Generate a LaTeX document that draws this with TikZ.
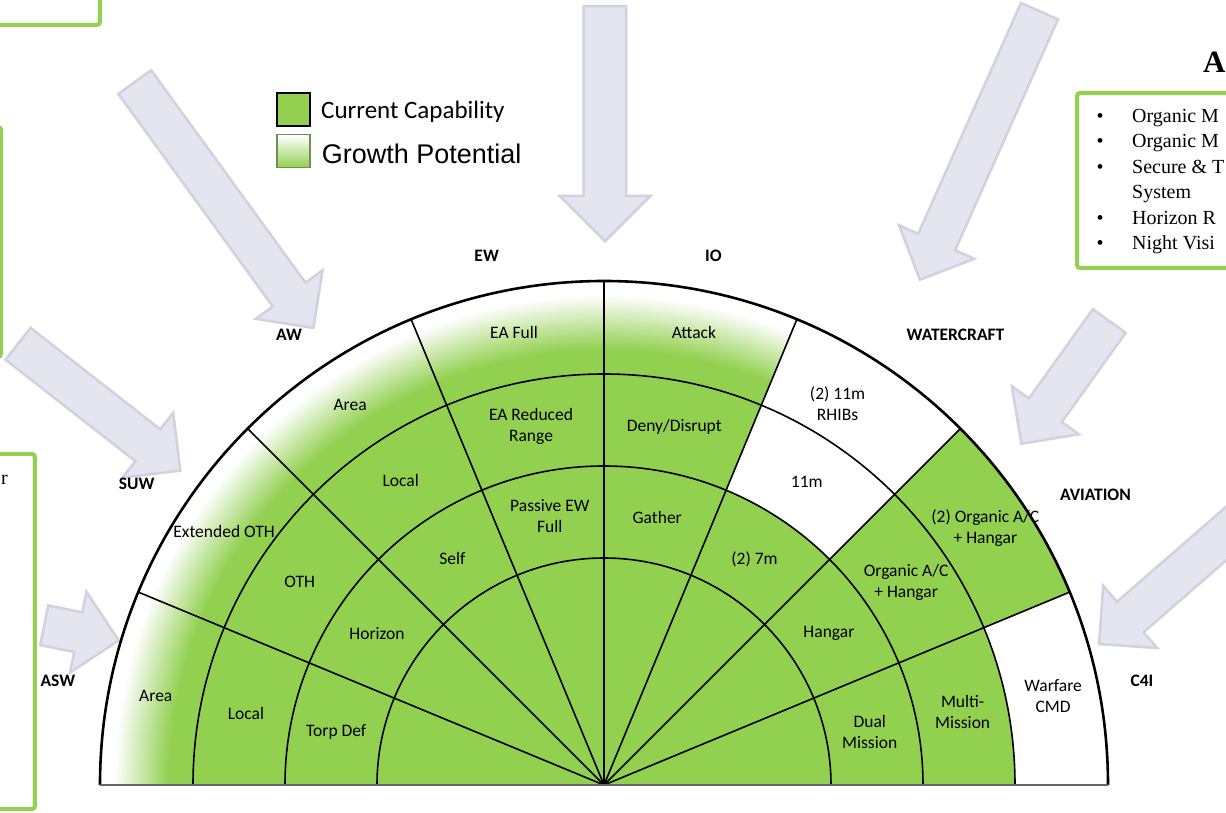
\documentclass[tikz,border=0pt]{standalone}
\usepackage{fontspec}
\setmainfont{Liberation Serif}
\newfontfamily\calibrifont{Carlito}
\newfontfamily\arialfont{Liberation Sans}
\usetikzlibrary{positioning, shapes.arrows}
\definecolor{capgreen}{HTML}{92D050}
\definecolor{arrowfill}{RGB}{228,229,238}
\definecolor{arrowline}{RGB}{208,210,226}
\definecolor{growline}{RGB}{115,140,90}
\pgfdeclareradialshading{growthfade}{\pgfpoint{0bp}{0bp}}{color(0bp)=(capgreen); color(21.6bp)=(capgreen); color(24.3bp)=(white); color(25bp)=(white); color(50bp)=(white)}
\def\ringA{227}
\def\ringB{319}
\def\ringC{411}
\def\ringR{504}

\begin{document}
\begin{tikzpicture}[x=1pt, y=1pt,
	cell/.style={font=\calibrifont\fontsize{17.5}{21}\selectfont, align=center, inner sep=0pt},
	sector/.style={font=\calibrifont\bfseries\fontsize{17.5}{21}\selectfont, inner sep=0pt},
	bigarrow/.style={single arrow, draw=arrowline, fill=arrowfill, line width=2.5pt, inner xsep=0pt, inner ysep=19pt, single arrow head extend=21pt, anchor=tail},
	panel/.style={draw=capgreen, line width=4pt, rounded corners=3pt},
	ringline/.style={line width=1.6pt},
	paneltext/.style={font=\fontsize{20}{24}\selectfont, anchor=base west, inner sep=0pt}]
	\useasboundingbox (-604,-27) rectangle (622,785);
	\clip (-604,-27) rectangle (622,785);
	\fill[white] (-604,-27) rectangle (622,785);
	\draw[panel] (-700,760) rectangle (-504,830);
	\draw[panel] (-700,428) rectangle (-603,658);
	\draw[panel] (-700,-24) rectangle (-569,331);
	\node[paneltext, anchor=base east] (leftword) at (-596,300) {r};
	\draw[panel] (473,517) rectangle (700,692);
	\node[font=\bfseries\fontsize{31}{34}\selectfont, anchor=base west, inner sep=0pt] (panelhead) at (599,712) {A};
	\foreach \txt/\yy [count=\i] in {Organic M/662, Organic M/637, Secure \& T/611.5, System/586, Horizon R/560.5, Night Visi/535}
		\node[paneltext] (item\i) at (528,\yy) {\txt};
	\foreach \yy [count=\i] in {662,637,611.5,560.5,535}
		\node[paneltext, anchor=base] (dot\i) at (496,\yy) {•};
	\node[bigarrow, minimum height=304pt, rotate=-54] (awarrow) at (-470,704) {};
	\node[bigarrow, minimum height=235pt, rotate=-90, inner ysep=20pt, single arrow head extend=24pt] (toparrow) at (1,780) {};
	\node[bigarrow, minimum height=294pt, rotate=-114] (boatarrow) at (436,775) {};
	\node[bigarrow, minimum height=206pt, rotate=-38] (suwarrow) at (-587,442) {};
	\node[bigarrow, minimum height=76pt, rotate=-11.5] (aswarrow) at (-561,160) {};
	\node[bigarrow, minimum height=151pt, rotate=-125.6] (avarrow) at (506,465) {};
	\node[bigarrow, minimum height=200pt, rotate=-139] (cfourarrow) at (647,273) {};
	\fill[capgreen] (0:\ringR) arc (0:180:\ringR) -- cycle;
	\fill[white] (45:\ringB) arc (45:67.5:\ringB) -- (67.5:\ringR) arc (67.5:45:\ringR) -- cycle;
	\fill[white] (0:\ringC) arc (0:22.5:\ringC) -- (22.5:\ringR) arc (22.5:0:\ringR) -- cycle;
	\begin{scope}
		\clip (67.5:\ringC) arc (67.5:180:\ringC) -- (180:\ringR) arc (180:67.5:\ringR) -- cycle;
		\shade[shading=growthfade] (0,0) circle[radius=\ringR pt];
	\end{scope}
	\foreach \r in {\ringA,\ringB,\ringC}
		\draw[ringline] (0:\r) arc (0:180:\r);
	\foreach \a in {22.5,45,...,157.5}
		\draw[ringline] (0,0) -- (\a:\ringR);
	\draw[line width=2.6pt] (0:\ringR) arc (0:180:\ringR);
	\draw[line width=2.4pt, black!60] (180:\ringR) -- (0:\ringR);
	\foreach \ang/\rad/\txt [count=\i] in {168.75/457/Area, 168.75/365/Local, 168.75/273/Torp Def,
		146.25/457/Extended OTH, 146.25/366/OTH, 146.25/273/Horizon,
		123.75/457/Area, 123.75/366/Local, 123.75/273/Self,
		101.25/461/EA Full, 101.5/366/{EA Reduced\\Range}, 101.4/274/{Passive EW\\Full},
		78.75/461/Attack, 78.9/365/{Deny/Disrupt}, 78.75/273/Gather,
		58.5/447/{(2) 11m\\RHIBs}, 56.25/365/11m, 56.25/271/{(2) 7m},
		34/460/{(2) Organic A/C\\+ Hangar}, 33.9/364/{Organic A/C\\+ Hangar}, 33.9/271/Hangar,
		11.25/458/{Warfare\\CMD}, 11.5/366/{Multi-\\Mission}, 11.3/271/{Dual\\Mission}}
		\node[cell] (cell\i) at (\ang:\rad) {\txt};
	\foreach \ang/\rad/\txt in {169.2/556/ASW, 147.2/556/SUW, 125/549/AW, 102.5/542/EW, 78.3/540/IO, 52/571/WATERCRAFT, 30.6/571/AVIATION, 11/548/C4I}
		\node[sector] (\txt) at (\ang:\rad) {\txt};
	\node[draw=black, line width=2pt, fill=capgreen, minimum size=33pt, inner sep=0pt] (capbox) at (-310.5,675.5) {};
	\node[draw=growline, line width=1.4pt, top color=white, bottom color=capgreen, minimum size=33pt, inner sep=0pt, below=7pt of capbox] (growbox) {};
	\node[font=\calibrifont\fontsize{25}{30}\selectfont, inner sep=0pt, right=10pt of capbox, yshift=-2pt] (captext) {Current Capability};
	\node[font=\arialfont\fontsize{27}{32}\selectfont, inner sep=0pt, right=11pt of growbox, yshift=-3pt] (growtext) {Growth Potential};
\end{tikzpicture}
\end{document}
